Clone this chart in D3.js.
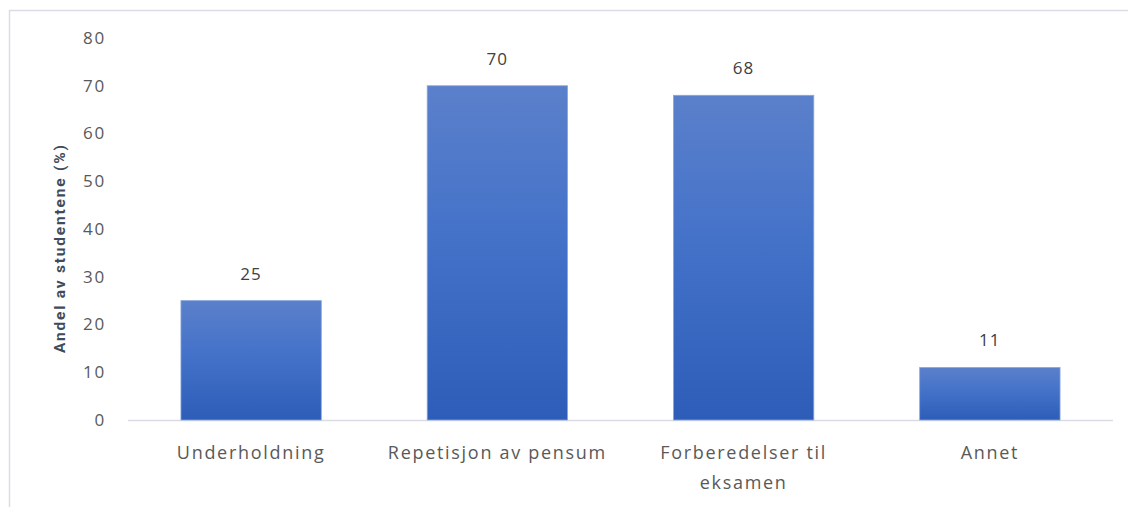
<!DOCTYPE html>
<html>
<head>
<meta charset="utf-8">
<script src="https://cdn.jsdelivr.net/npm/d3@7"></script>
<style>
  html, body { margin: 0; padding: 0; background: #fff; }
  svg { display: block; }
</style>
</head>
<body>
<svg id="chart" width="1128" height="507"></svg>
<script>
// Share of students by purpose
const categories = ["Underholdning", "Repetisjon av pensum", "Forberedelser til eksamen", "Annet"];
const categoryLines = [["Underholdning"], ["Repetisjon av pensum"], ["Forberedelser til", "eksamen"], ["Annet"]];
const values = [25, 70, 68, 11];
const yTicks = [0, 10, 20, 30, 40, 50, 60, 70, 80];
const yTitle = "Andel av studentene  (%)";

const svg = d3.select("#chart");
const W = 1128, H = 507;
const margin = { left: 128, right: 15, top: 38, bottom: 87 };

// Chart frame
svg.append("rect")
  .attr("x", 9.5).attr("y", 10.5)
  .attr("width", W + 10).attr("height", H + 10)
  .attr("fill", "#fff")
  .attr("stroke", "#d9dde3").attr("stroke-width", 1.5);

const x = d3.scaleBand()
  .domain(categories)
  .range([margin.left, W - margin.right])
  .paddingInner(0.43).paddingOuter(0.215);

const y = d3.scaleLinear()
  .domain([0, 80])
  .range([H - margin.bottom, margin.top]);

const defs = svg.append("defs");
const grad = defs.append("linearGradient")
  .attr("id", "barFill").attr("x1", 0).attr("y1", 0).attr("x2", 0).attr("y2", 1);
grad.append("stop").attr("offset", "0%").attr("stop-color", "#5b80cb");
grad.append("stop").attr("offset", "45%").attr("stop-color", "#4472c9");
grad.append("stop").attr("offset", "100%").attr("stop-color", "#2d5db8");

const font = "'Open Sans', 'Noto Sans', sans-serif";

// Y axis tick labels (no axis line)
const yAxis = d3.axisLeft(y).tickValues(yTicks).tickSize(0).tickPadding(0);
const yG = svg.append("g")
  .attr("transform", `translate(${margin.left - 22},0)`)
  .call(yAxis);
yG.select(".domain").remove();
yG.selectAll("text")
  .attr("fill", "#595959")
  .attr("font-family", font)
  .attr("font-size", 17)
  .attr("letter-spacing", 1.8);

// Baseline
svg.append("line")
  .attr("x1", margin.left).attr("x2", W - 15)
  .attr("y1", y(0) + 0.5).attr("y2", y(0) + 0.5)
  .attr("stroke", "#d9dde3").attr("stroke-width", 1.5);

// Bars
svg.append("g").selectAll("rect")
  .data(values)
  .join("rect")
  .attr("x", (d, i) => x(categories[i]))
  .attr("y", d => y(d))
  .attr("width", x.bandwidth())
  .attr("height", d => y(0) - y(d))
  .attr("fill", "url(#barFill)")
  .attr("stroke", "#8aa6dc").attr("stroke-width", 0.8);

// Value labels
svg.append("g").selectAll("text")
  .data(values)
  .join("text")
  .attr("x", (d, i) => x(categories[i]) + x.bandwidth() / 2)
  .attr("y", d => y(d) - 21)
  .attr("text-anchor", "middle")
  .attr("fill", "#404040")
  .attr("font-family", font)
  .attr("font-size", 17)
  .attr("letter-spacing", 1.2)
  .text(d => d);

// Category labels
const cat = svg.append("g").selectAll("text")
  .data(categoryLines)
  .join("text")
  .attr("x", (d, i) => x(categories[i]) + x.bandwidth() / 2)
  .attr("y", y(0) + 39)
  .attr("text-anchor", "middle")
  .attr("fill", "#595959")
  .attr("font-family", font)
  .attr("font-size", 18)
  .attr("letter-spacing", 1.7);
cat.selectAll("tspan")
  .data(d => d)
  .join("tspan")
  .attr("x", function () { return d3.select(this.parentNode).attr("x"); })
  .attr("dy", (d, i) => i === 0 ? 0 : 30)
  .text(d => d);

// Y axis title
svg.append("text")
  .attr("transform", `translate(65,${y(36)}) rotate(-90)`)
  .attr("text-anchor", "middle")
  .attr("fill", "#404b5a")
  .attr("font-family", "'Liberation Sans Narrow', 'Roboto', sans-serif")
  .attr("font-weight", "bold")
  .attr("font-size", 15.5)
  .attr("letter-spacing", 1.8)
  .text(yTitle);
</script>
</body>
</html>
